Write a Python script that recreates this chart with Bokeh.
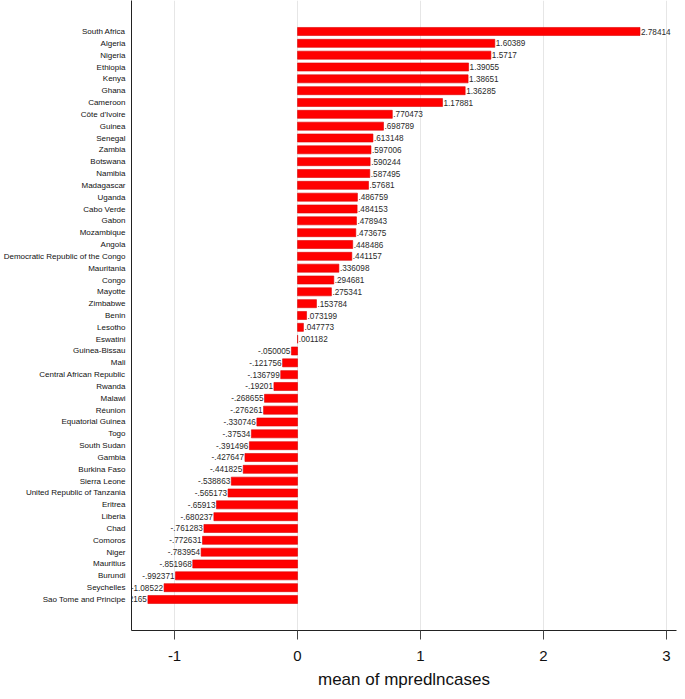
from bokeh.plotting import figure
from bokeh.models import ColumnDataSource, Range1d, FixedTicker
from bokeh.core.properties import value
from bokeh.embed import file_html
from bokeh.resources import INLINE

countries = [
    "South Africa", "Algeria", "Nigeria", "Ethiopia", "Kenya", "Ghana", "Cameroon",
    "Côte d'Ivoire", "Guinea", "Senegal", "Zambia", "Botswana", "Namibia", "Madagascar",
    "Uganda", "Cabo Verde", "Gabon", "Mozambique", "Angola",
    "Democratic Republic of the Congo", "Mauritania", "Congo", "Mayotte", "Zimbabwe",
    "Benin", "Lesotho", "Eswatini", "Guinea-Bissau", "Mali", "Central African Republic",
    "Rwanda", "Malawi", "Réunion", "Equatorial Guinea", "Togo", "South Sudan", "Gambia",
    "Burkina Faso", "Sierra Leone", "United Republic of Tanzania", "Eritrea", "Liberia",
    "Chad", "Comoros", "Niger", "Mauritius", "Burundi", "Seychelles",
    "Sao Tome and Principe",
]
means = [
    2.78414, 1.60389, 1.5717, 1.39055, 1.38651, 1.36285, 1.17881,
    0.770473, 0.698789, 0.613148, 0.597006, 0.590244, 0.587495, 0.57681,
    0.486759, 0.484153, 0.478943, 0.473675, 0.448486,
    0.441157, 0.336098, 0.294681, 0.275341, 0.153784,
    0.073199, 0.047773, 0.001182, -0.050005, -0.121756, -0.136799,
    -0.19201, -0.268655, -0.276261, -0.330746, -0.37534, -0.391496, -0.427647,
    -0.441825, -0.538863, -0.565173, -0.65913, -0.680237,
    -0.761283, -0.772631, -0.783954, -0.851968, -0.992371, -1.08522,
    -1.2165,
]
x_ticks = [-1, 0, 1, 2, 3]
x_tick_labels = {-1: "-1", 0: "0", 1: "1", 2: "2", 3: "3"}
x_title = "mean of mpredlncases"
X_MIN, X_MAX = -1.35, 3.081


def stata_fmt(v):
    s = f"{v:g}"
    if s.startswith("0."):
        s = s[1:]
    elif s.startswith("-0."):
        s = "-" + s[2:]
    return s


n = len(countries)
ypos = [n - 1 - i for i in range(n)]
labels = [stata_fmt(v) for v in means]

src = ColumnDataSource(dict(y=ypos, v=means, lab=labels, name=countries))
pos = ColumnDataSource(dict(
    y=[y for y, v in zip(ypos, means) if v >= 0],
    v=[v for v in means if v >= 0],
    lab=[l for l, v in zip(labels, means) if v >= 0]))
neg = ColumnDataSource(dict(
    y=[y for y, v in zip(ypos, means) if v < 0],
    v=[v for v in means if v < 0],
    lab=[l for l, v in zip(labels, means) if v < 0]))

FONT = "Liberation Sans"

p = figure(width=677, height=691, output_backend="svg", toolbar_location=None,
           x_range=Range1d(X_MIN, X_MAX), y_range=Range1d(-2.62, n - 1 + 2.62),
           min_border_left=131, min_border_right=1, min_border_top=0,
           min_border_bottom=61)
p.outline_line_color = None
p.background_fill_color = "white"
p.border_fill_color = "white"

p.hbar(y="y", right="v", left=0, height=0.68, source=src,
       fill_color="#ff0000", line_color="#dd0000", line_width=0.6)

p.text(x="v", y="y", text="lab", source=pos, text_align="left",
       text_baseline="middle", x_offset=1, text_font_size="8.2px",
       text_font=value(FONT), text_color="#2a2a2a")
p.text(x="v", y="y", text="lab", source=neg, text_align="right",
       text_baseline="middle", x_offset=-1, text_font_size="8.2px",
       text_font=value(FONT), text_color="#2a2a2a")

# x axis
p.xaxis.ticker = FixedTicker(ticks=x_ticks)
p.xaxis.major_label_overrides = x_tick_labels
p.xaxis.axis_label = x_title
p.xaxis.axis_label_text_font = FONT
p.xaxis.axis_label_text_font_size = "17px"
p.xaxis.axis_label_text_font_style = "normal"
p.xaxis.axis_label_text_color = "#111111"
p.xaxis.axis_label_standoff = 6
p.xaxis.major_label_text_font = FONT
p.xaxis.major_label_text_font_size = "15px"
p.xaxis.major_label_text_color = "#111111"
p.xaxis.major_label_standoff = 11
p.xaxis.major_tick_out = 9
p.xaxis.major_tick_in = 0
p.xaxis.minor_tick_line_color = None
p.xaxis.axis_line_color = "#222222"
p.xaxis.major_tick_line_color = "#444444"

# y axis: category names
p.yaxis.ticker = FixedTicker(ticks=ypos)
p.yaxis.major_label_overrides = {y: c for y, c in zip(ypos, countries)}
p.yaxis.major_label_text_font = FONT
p.yaxis.major_label_text_font_size = "8px"
p.yaxis.major_label_text_color = "#111111"
p.yaxis.major_label_standoff = 6
p.yaxis.major_tick_out = 0
p.yaxis.major_tick_in = 0
p.yaxis.major_tick_line_color = None
p.yaxis.minor_tick_line_color = None
p.yaxis.axis_line_color = "#222222"

p.xgrid.grid_line_color = "#e6e6e6"
p.ygrid.grid_line_color = None

open("out.html", "w").write(file_html(p, INLINE))
